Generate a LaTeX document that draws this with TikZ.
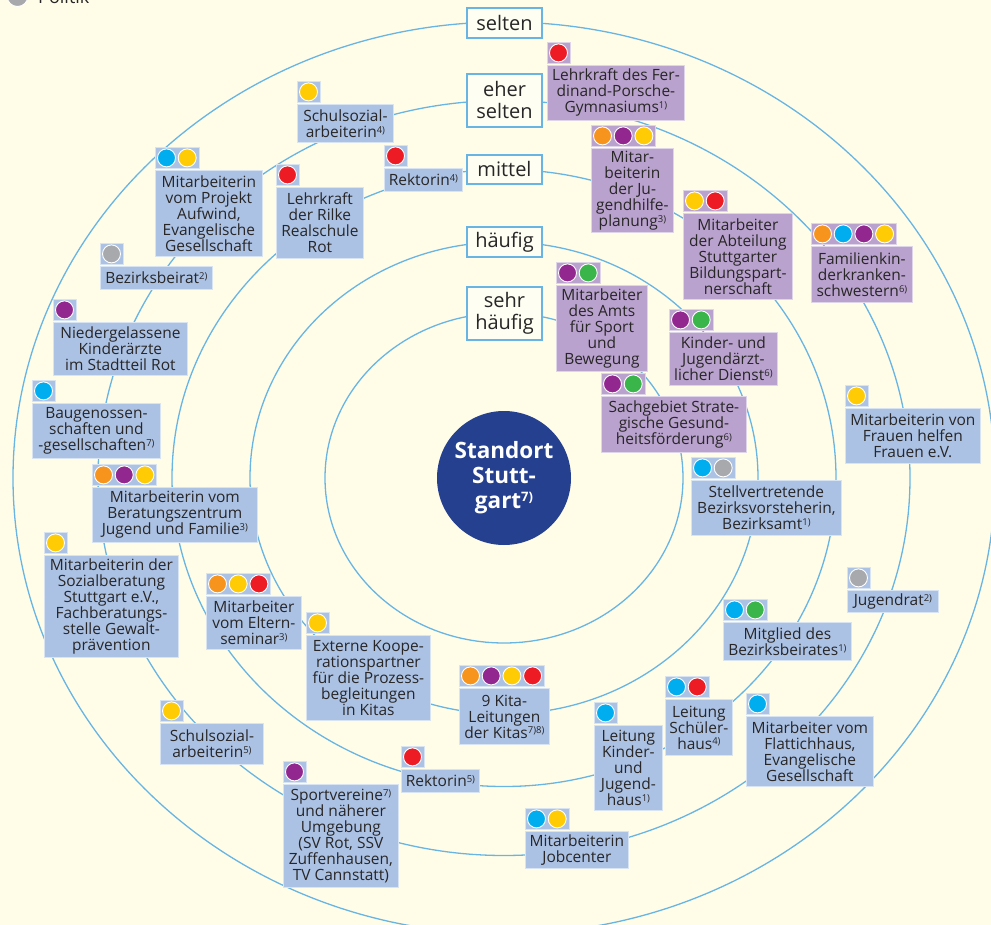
\documentclass[tikz,border=0pt]{standalone}
\usepackage{fontspec}
\setmainfont{Open Sans}
\definecolor{bg}{RGB}{255,253,232}
\definecolor{ringc}{RGB}{104,181,228}
\definecolor{bluefill}{RGB}{171,194,228}
\definecolor{purplefill}{RGB}{185,162,206}
\definecolor{txt}{RGB}{40,38,38}
\definecolor{centreblue}{RGB}{37,64,143}
\definecolor{dorange}{RGB}{247,148,29}
\definecolor{dpurple}{RGB}{146,39,143}
\definecolor{dyellow}{RGB}{255,203,5}
\definecolor{dred}{RGB}{237,28,36}
\definecolor{dgreen}{RGB}{57,181,74}
\definecolor{dcyan}{RGB}{0,174,239}
\definecolor{dgrey}{RGB}{167,169,172}
% small raised footnote marks
\newcommand\fn[1]{\raisebox{4.2pt}{\fontsize{9.5}{9.5}\selectfont #1}}
\newcommand\bigfn[1]{\raisebox{7pt}{\fontsize{13}{13}\selectfont #1}}
% one partner: label box, dot box above it, coloured dots
% #1 name, #2 style, #3 x, #4 y, #5 width, #6 height, #7 dot colours, #8 text
\newcommand\entry[8]{%
  \node[#2, anchor=north west, minimum width=#5pt, minimum height=#6pt] (#1) at (#3,#4) {#8};
  \foreach \c [count=\n] in {#7} {\xdef\ndots{\n}}%
  \node[#2, anchor=south west, minimum width=\ndots*20.7pt+2.3pt, minimum height=21pt, yshift=1.2pt] (#1-dots) at (#1.north west) {};
  \foreach \c [count=\i] in {#7} {\filldraw[fill=\c, draw=white, line width=0.9pt] ([xshift=\i*20.7pt-9.2pt]#1-dots.west) circle (9pt);}%
}
\tikzset{
  lbl/.style={rectangle, inner sep=0pt, align=center, text=txt, line width=0.8pt,
    font=\fontsize{15.5}{16}\selectfont},
  bluebox/.style={lbl, fill=bluefill, draw=bluefill!45!white},
  purplebox/.style={lbl, fill=purplefill, draw=purplefill!45!white},
  level/.style={rectangle, draw=ringc, line width=1.6pt, fill=bg!50!white, minimum width=75pt,
    inner sep=0pt, align=center, text=txt, font=\fontsize{20}{22}\selectfont},
  ring/.style={draw=ringc, line width=1.3pt}
}
\begin{document}
\begin{tikzpicture}[x=1pt,y=-1pt]
\useasboundingbox (0,0) rectangle (991,925);
\fill[bg] (0,0) rectangle (991,925);

% legend entry at the upper edge
\filldraw[fill=dgrey, draw=white, line width=0.9pt] (17.5,-4) circle (10.5pt);
\node[anchor=base west, font=\fontsize{18}{18}\selectfont, text=txt, inner sep=0pt] (legend) at (38,4) {Politik};

% frequency rings
\draw[ring] (504,478) ellipse [x radius=179pt, y radius=165pt];
\draw[ring] (504,478) ellipse [x radius=254pt, y radius=236pt];
\draw[ring] (504,478) ellipse [x radius=332pt, y radius=308.5pt];
\draw[ring] (504,478) ellipse [x radius=406pt, y radius=377.5pt];
\draw[ring] (504,478) ellipse [x radius=491pt, y radius=456pt];

% ring labels
\node[level, minimum height=30pt] (selten) at (504.5,23) {selten};
\node[level, minimum height=53pt] (eherselten) at (504.5,100.5) {eher\\selten};
\node[level, minimum height=29pt] (mittel) at (504.5,169.5) {mittel};
\node[level, minimum height=30pt] (haeufig) at (504.5,242) {häufig};
\node[level, minimum height=53pt] (sehrhaeufig) at (504.5,313.5) {sehr\\häufig};

% centre
\node[circle, fill=centreblue, minimum size=134pt, inner sep=0pt, text=white, align=center,
  font=\bfseries\fontsize{22.5}{25}\selectfont] (centre) at (504,478) {Standort\\Stutt-\\gart\bigfn{7)}};

% partners
\entry{schulA}{bluebox}{297}{104}{96}{38}{dyellow}{Schulsozial-\\arbeiterin\fn{4)}}
\entry{aufwind}{bluebox}{155}{170}{107}{86}{dcyan,dyellow}{Mitarbeiterin\\vom Projekt\\Aufwind,\\Evangelische\\Gesellschaft}
\entry{rilke}{bluebox}{276}{187}{87}{71}{dred}{Lehrkraft\\der Rilke\\Realschule\\Rot}
\entry{rektA}{bluebox}{384}{168}{78}{23}{dred}{Rektorin\fn{4)}}
\entry{bezbeirat}{bluebox}{100}{266}{112}{23}{dgrey}{Bezirksbeirat\fn{2)}}
\entry{aerzte}{bluebox}{53}{322}{134}{53}{dpurple}{Niedergelassene\\Kinderärzte\\im Stadtteil Rot}
\entry{baugen}{bluebox}{32}{403}{128}{55}{dcyan}{Baugenossen-\\schaften und\\-gesellschaften\fn{7)}}
\entry{beratung}{bluebox}{92}{487}{165}{55}{dorange,dpurple,dyellow}{Mitarbeiterin vom\\Beratungszentrum\\Jugend und Familie\fn{3)}}
\entry{sozial}{bluebox}{44}{555}{134}{102}{dyellow}{Mitarbeiterin der\\Sozialberatung\\Stuttgart e.V.,\\Fachberatungs-\\stelle Gewalt-\\prävention}
\entry{eltern}{bluebox}{206}{596}{95}{53}{dorange,dyellow,dred}{Mitarbeiter\\vom Eltern-\\seminar\fn{3)}}
\entry{extern}{bluebox}{306}{635}{124}{85}{dyellow}{Externe Koope-\\rationspartner\\für die Prozess-\\begleitungen\\in Kitas}
\entry{schulB}{bluebox}{160}{723}{103}{41}{dyellow}{Schulsozial-\\arbeiterin\fn{5)}}
\entry{sport}{bluebox}{283}{784}{115}{103}{dpurple}{Sportvereine\fn{7)}\\und näherer\\Umgebung\\(SV Rot, SSV\\Zuffenhausen,\\TV Cannstatt)}
\entry{rektB}{bluebox}{401}{769}{78}{23}{dred}{Rektorin\fn{5)}}
\entry{kita}{bluebox}{459}{688}{90}{56}{dorange,dpurple,dyellow,dred}{9 Kita-\\Leitungen\\der Kitas\fn{7)8)}}
\entry{jugendhaus}{bluebox}{594}{725}{68}{85}{dcyan}{Leitung\\Kinder-\\und\\Jugend-\\haus\fn{1)}}
\entry{jobcenter}{bluebox}{525}{831}{103}{37}{dcyan,dyellow}{Mitarbeiterin\\Jobcenter}
\entry{schuelerhaus}{bluebox}{665}{699}{67}{56}{dcyan,dred}{Leitung\\Schüler-\\haus\fn{4)}}
\entry{flattich}{bluebox}{746}{716}{127}{70}{dcyan}{Mitarbeiter vom\\Flattichhaus,\\Evangelische\\Gesellschaft}
\entry{mitglied}{bluebox}{723}{622}{128}{38}{dcyan,dgreen}{Mitglied des\\Bezirksbeirates\fn{1)}}
\entry{jugendrat}{bluebox}{847}{590}{91}{22}{dgrey}{Jugendrat\fn{2)}}
\entry{stellv}{bluebox}{691}{480}{150}{55}{dcyan,dgrey}{Stellvertretende\\Bezirksvorsteherin,\\Bezirksamt\fn{1)}}
\entry{frauen}{bluebox}{845}{408}{135}{55}{dyellow}{Mitarbeiterin von\\Frauen helfen\\Frauen e.V.}

\entry{porsche}{purplebox}{547}{65}{137}{55}{dred}{Lehrkraft des Fer-\\dinand-Porsche-\\Gymnasiums\fn{1)}}
\entry{jhp}{purplebox}{591}{148}{82}{84}{dorange,dpurple,dyellow}{Mitar-\\beiterin\\der Ju-\\gendhilfe-\\planung\fn{3)}}
\entry{bildung}{purplebox}{683}{213}{109}{86}{dyellow,dred}{Mitarbeiter\\der Abteilung\\Stuttgarter\\Bildungspart-\\nerschaft}
\entry{fkks}{purplebox}{811}{246}{101}{56}{dorange,dcyan,dpurple,dyellow}{Familienkin-\\derkranken-\\schwestern\fn{6)}}
\entry{amt}{purplebox}{556}{285}{91}{86}{dpurple,dgreen}{Mitarbeiter\\des Amts\\für Sport\\und\\Bewegung}
\entry{kjd}{purplebox}{669}{332}{108}{53}{dpurple,dgreen}{Kinder- und\\Jugendärzt-\\licher Dienst\fn{6)}}
\entry{sachgebiet}{purplebox}{601}{396}{145}{56}{dpurple,dgreen}{Sachgebiet Strate-\\gische Gesund-\\heitsförderung\fn{6)}}
\end{tikzpicture}
\end{document}
